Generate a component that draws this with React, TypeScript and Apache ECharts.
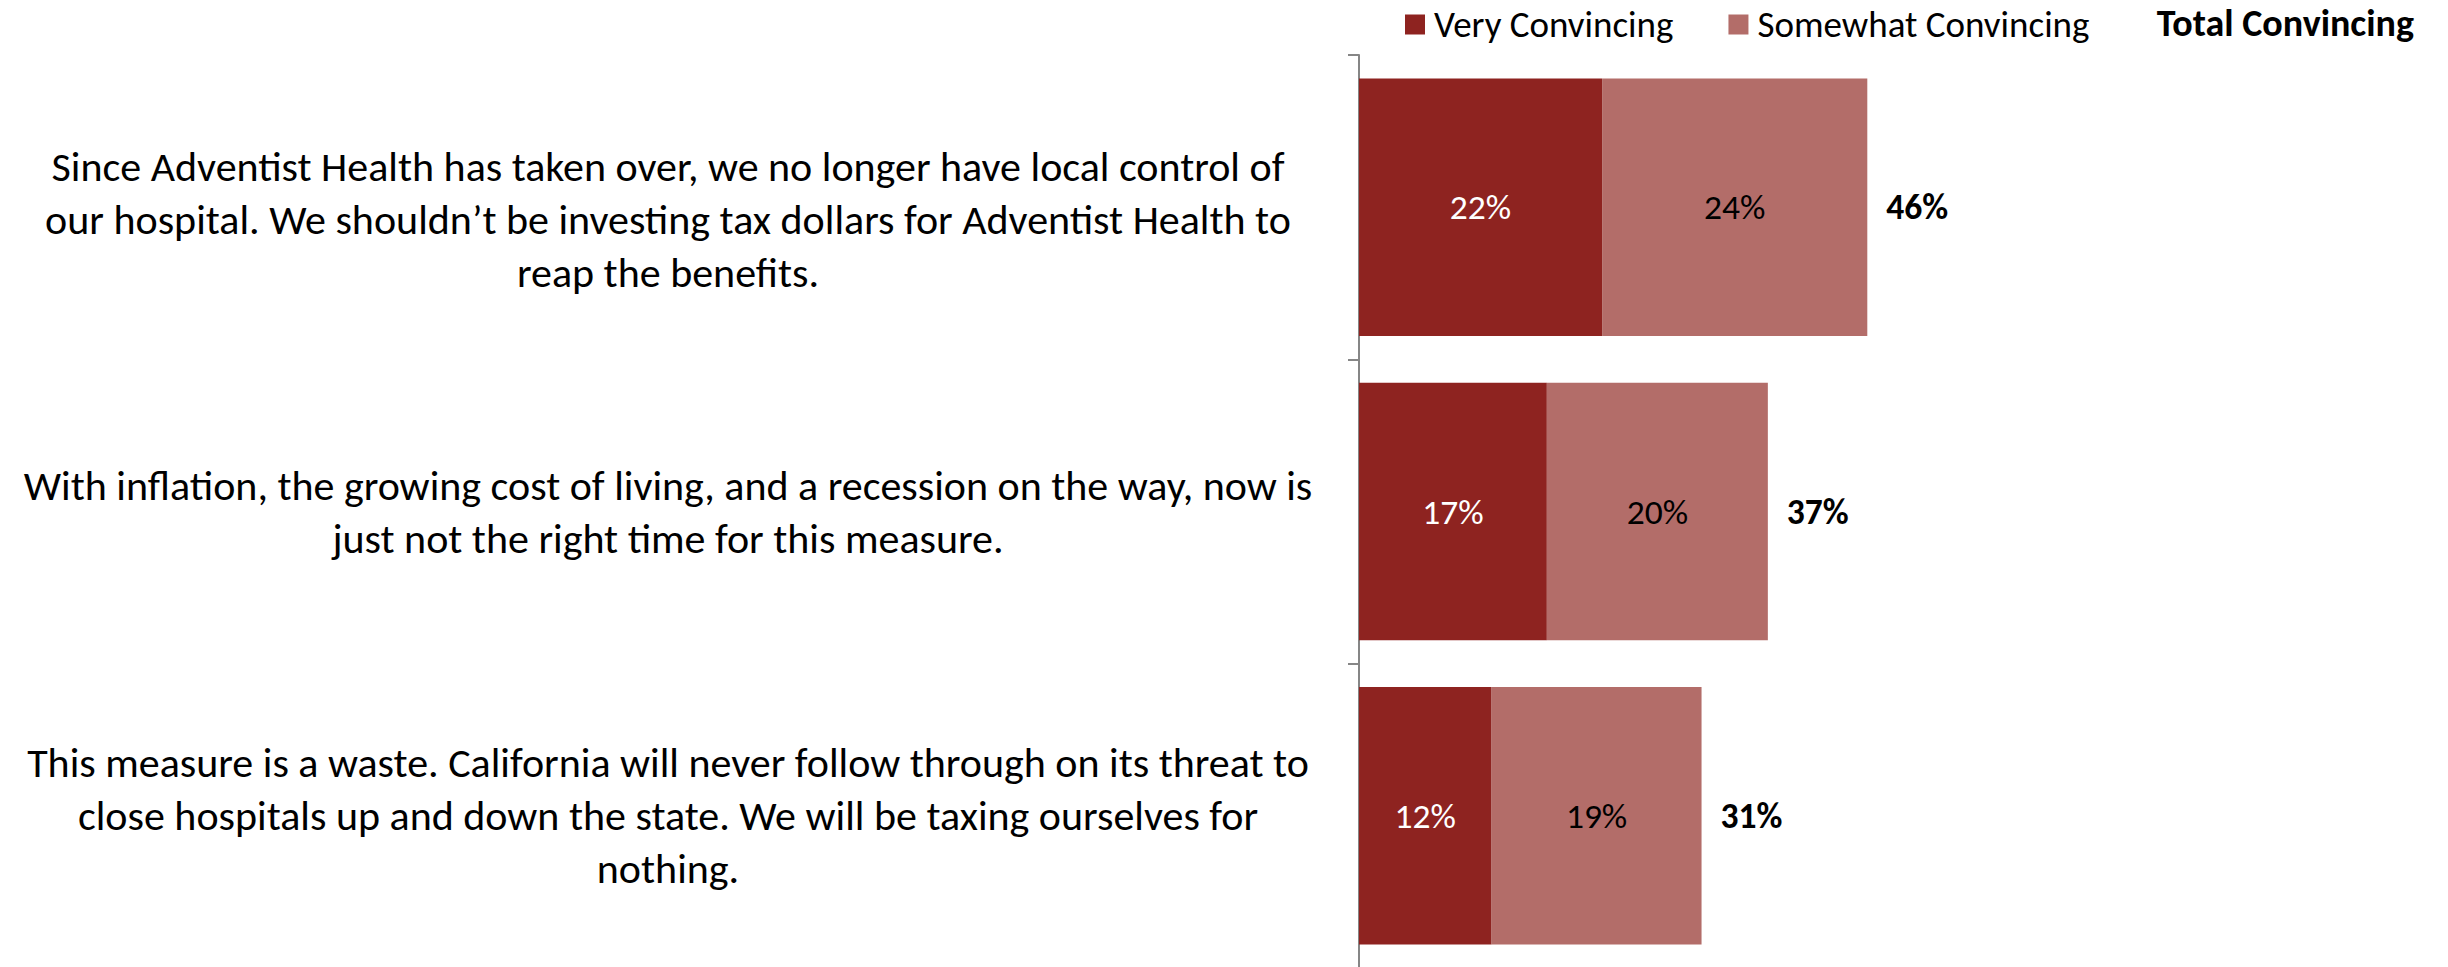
import React, { useEffect, useRef } from "react";
import * as echarts from "echarts";

const categories = [
  "Since Adventist Health has taken over, we no longer have local control of\nour hospital. We shouldn\u2019t be investing tax dollars for Adventist Health to\nreap the benefits.",
  "With inflation, the growing cost of living, and a recession on the way, now is\njust not the right time for this measure.",
  "This measure is a waste. California will never follow through on its threat to\nclose hospitals up and down the state. We will be taxing ourselves for\nnothing.",
];
const veryConvincing = [22, 17, 12];
const somewhatConvincing = [24, 20, 19];
const totalConvincing = [46, 37, 31];
const seriesNames = ["Very Convincing", "Somewhat Convincing"];
const totalHeader = "Total Convincing";

const FONT = "Carlito, Calibri, Lato, sans-serif";

export default function App() {
  const ref = useRef<HTMLDivElement>(null);
  useEffect(() => {
    if (!ref.current) return;
    const chart = echarts.init(ref.current, undefined, { renderer: "svg" });
    chart.setOption({
      animation: false,
      textStyle: { fontFamily: FONT },
      legend: {
        data: seriesNames,
        left: 1400,
        top: 1,
        itemWidth: 20,
        itemHeight: 20,
        itemGap: 55,
        icon: "rect",
        textStyle: { fontSize: 37, color: "#000", fontFamily: FONT, padding: [0, 0, 0, 4] },
      },
      graphic: [
        {
          type: "text",
          right: 34,
          top: 4,
          style: { text: totalHeader, fontSize: 38, fontWeight: "bold", fill: "#000", fontFamily: FONT },
        },
      ],
      grid: {
        left: 1359,
        top: 55,
        width: 884,
        height: 913,
        containLabel: false,
        outerBoundsMode: "none",
      },
      xAxis: { type: "value", min: 0, max: 80, show: false },
      yAxis: {
        type: "category",
        inverse: true,
        data: categories,
        axisLine: { show: true, lineStyle: { color: "#868686", width: 2 } },
        axisTick: { show: true, length: 11, lineStyle: { color: "#868686", width: 2 } },
        axisLabel: {
          align: "center",
          fontSize: 42,
          lineHeight: 53,
          color: "#000",
          fontFamily: FONT,
          margin: 691,
          formatter: (v: string, i: number) => (i === 0 ? "{s| }\n" + v : v),
          rich: { s: { fontSize: 10, lineHeight: 24 } },
        },
      },
      series: [
        {
          name: seriesNames[0],
          type: "bar",
          stack: "a",
          data: veryConvincing,
          barCategoryGap: "15.4%",
          itemStyle: { color: "#8E2320" },
          label: { show: true, position: "inside", formatter: "{c}%", color: "#fff", fontSize: 35.5, fontFamily: FONT },
        },
        {
          name: seriesNames[1],
          type: "bar",
          stack: "a",
          data: somewhatConvincing,
          itemStyle: { color: "#B36D69" },
          label: { show: true, position: "inside", formatter: "{c}%", color: "#000", fontSize: 35.5, fontFamily: FONT },
        },
        {
          name: "Total",
          type: "scatter",
          data: totalConvincing.map((v, i) => [v, i]),
          symbolSize: 0,
          silent: true,
          itemStyle: { opacity: 1 },
          label: {
            show: true,
            position: "right",
            distance: 19,
            formatter: (p: any) => p.value[0] + "%",
            color: "#000",
            opacity: 1,
            fontWeight: "bold",
            fontSize: 35.5,
            fontFamily: FONT,
          },
        },
      ],
    });
    return () => chart.dispose();
  }, []);
  return (
    <div
      ref={ref}
      style={{ position: "absolute", left: 0, top: 0, width: 2448, height: 967, background: "#fff" }}
    />
  );
}
